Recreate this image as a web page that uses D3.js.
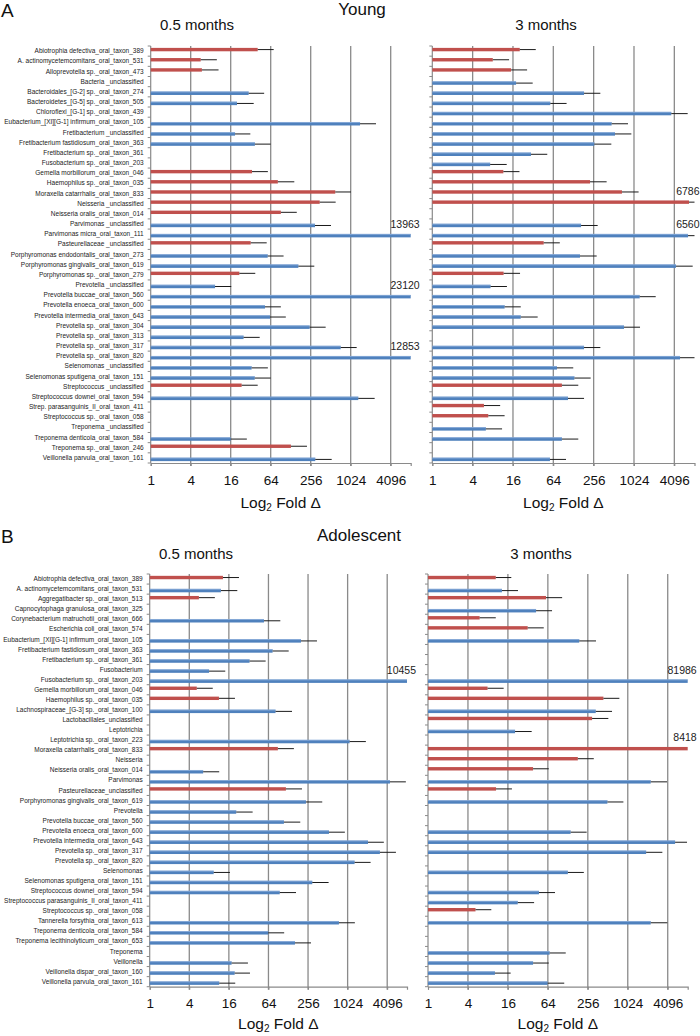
<!DOCTYPE html>
<html>
<head>
<meta charset="utf-8">
<script src="https://cdn.jsdelivr.net/npm/d3@7"></script>
<style>
  body { margin: 0; background: #fff; }
  svg { font-family: "Liberation Sans", Arial, sans-serif; }
</style>
</head>
<body>
<div id="chart"></div>
<script>
// ---- data (fold change, upper error, series r = red / b = blue) ----
var catsA = ["Abiotrophia defectiva_oral_taxon_389", "A. actinomycetemcomitans_oral_taxon_531",
  "Alloprevotella sp._oral_taxon_473", "Bacteria _unclassified", "Bacteroidales_[G-2] sp._oral_taxon_274",
  "Bacteroidetes_[G-5] sp._oral_taxon_505", "Chloroflexi_[G-1] sp._oral_taxon_439",
  "Eubacterium_[XI][G-1] infirmum_oral_taxon_105", "Fretibacterium _unclassified",
  "Fretibacterium fastidiosum_oral_taxon_363", "Fretibacterium sp._oral_taxon_361",
  "Fusobacterium sp._oral_taxon_203", "Gemella morbillorum_oral_taxon_046", "Haemophilus sp._oral_taxon_035",
  "Moraxella catarrhalis_oral_taxon_833", "Neisseria _unclassified", "Neisseria oralis_oral_taxon_014",
  "Parvimonas _unclassified", "Parvimonas micra_oral_taxon_111", "Pasteurellaceae _unclassified",
  "Porphyromonas endodontalis_oral_taxon_273", "Porphyromonas gingivalis_oral_taxon_619",
  "Porphyromonas sp._oral_taxon_279", "Prevotella _unclassified", "Prevotella buccae_oral_taxon_560",
  "Prevotella enoeca_oral_taxon_600", "Prevotella intermedia_oral_taxon_643", "Prevotella sp._oral_taxon_304",
  "Prevotella sp._oral_taxon_313", "Prevotella sp._oral_taxon_317", "Prevotella sp._oral_taxon_820",
  "Selenomonas _unclassified", "Selenomonas sputigena_oral_taxon_151", "Streptococcus _unclassified",
  "Streptococcus downei_oral_taxon_594", "Strep. parasanguinis_II_oral_taxon_411",
  "Streptococcus sp._oral_taxon_058", "Treponema _unclassified", "Treponema denticola_oral_taxon_584",
  "Treponema sp._oral_taxon_246", "Veillonella parvula_oral_taxon_161"];

var valA05 = [40.8, 5.66, 5.9, null, 29.8, 19.9, null, 1415, 18.6, 37, null, null, 33.5, 82, 600, 350, 91, 297, 13963, 32,
  57.7, 167, 21.6, 9.3, 23120, 52.5, 62.5, 247, 25, 724, 12853, 33, 36.8, 23.4, 1333, null, null, null, 16, 129, 300];
var errA05 = [71, 9.9, 10.5, null, 51, 35.5, null, 2460, 31.6, 64, null, null, 58, 145, 1034, 608, 158, 517, null, 55.7,
  100, 290, 37.5, 16.3, null, 91, 108, 430, 43.7, 1260, null, 58, 64, 40.8, 2350, null, null, null, 28, 225, 530];
var serA05 = "rrr-bb-bbb--rrrrrbbrbbrbbbbbbbbbbrb---brb";

var valA3 = [20.2, 8, 15, 17.8, 184, 57.7, 3690, 475, 533, 262, 29.7, 7.3, 11.5, 226, 677, 6786, null, 166, 6560, 46,
  160, 4330, 11.6, 7.4, 1245, 12, 20.9, 727, null, 184, 4980, 72.6, 132, 86, 106, 5.9, 6.85, 6.3, 86, null, 57];
var errA3 = [35, 14, 26, 31.5, 322, 101, 6480, 833, 935, 470, 52, 12.9, 20, 400, 1200, 9000, null, 294, 9000, 80,
  284, 7700, 20.4, 13, 2160, 20.9, 37.4, 1260, null, 322, 8700, 127, 231, 151, 184, 10.3, 12, 11, 151, null, 99];
var serA3 = "rrrbbbbbbbbbrrrr-bbrbbrbbbbb-bbbbrbrrbb-b";

var catsB = ["Abiotrophia defectiva_oral_taxon_389", "A. actinomycetemcomitans_oral_taxon_531",
  "Aggregatibacter sp._oral_taxon_513", "Capnocytophaga granulosa_oral_taxon_325",
  "Corynebacterium matruchotii_oral_taxon_666", "Escherichia coli_oral_taxon_574",
  "Eubacterium_[XI][G-1] infirmum_oral_taxon_105", "Fretibacterium fastidiosum_oral_taxon_363",
  "Fretibacterium sp._oral_taxon_361", "Fusobacterium", "Fusobacterium sp._oral_taxon_203",
  "Gemella morbillorum_oral_taxon_046", "Haemophilus sp._oral_taxon_035",
  "Lachnospiraceae_[G-3] sp._oral_taxon_100", "Lactobacillales_unclassified", "Leptotrichia",
  "Leptotrichia sp._oral_taxon_223", "Moraxella catarrhalis_oral_taxon_833", "Neisseria",
  "Neisseria oralis_oral_taxon_014", "Parvimonas", "Pasteurellaceae_unclassified",
  "Porphyromonas gingivalis_oral_taxon_619", "Prevotella", "Prevotella buccae_oral_taxon_560",
  "Prevotella enoeca_oral_taxon_600", "Prevotella intermedia_oral_taxon_643", "Prevotella sp._oral_taxon_317",
  "Prevotella sp._oral_taxon_820", "Selenomonas", "Selenomonas sputigena_oral_taxon_151",
  "Streptococcus downei_oral_taxon_594", "Streptococcus parasanguinis_II_oral_taxon_411",
  "Streptococcus sp._oral_taxon_058", "Tannerella forsythia_oral_taxon_613", "Treponema denticola_oral_taxon_584",
  "Treponema lecithinolyticum_oral_taxon_653", "Treponema", "Veillonella", "Veillonella dispar_oral_taxon_160",
  "Veillonella parvula_oral_taxon_161"];

var valB05 = [13, 12.1, 5.6, null, 54.7, null, 200, 74, 33, 8, 10455, 5.2, 11.3, 82, null, null, 1097, 89, null, 6.5,
  4510, 118, 238, 20.7, 110, 533, 2090, 3170, 1307, 9.4, 297, 95, null, null, 755, 63.6, 162, null, 17.6, 19.6, 11.4];
var errB05 = [22.8, 21.5, 9.8, null, 97, null, 350, 130, 58, 14.1, null, 9.1, 19.8, 146, null, null, 1940, 156, null, 11.4,
  7870, 207, 421, 36.8, 195, 930, 3640, 5560, 2290, 16.6, 526, 168, null, null, 1320, 111, 284, null, 31.2, 33.5, 20];
var serB05 = "rbr-b-bbbbbrrb--br-bbrbbbbbbbbbb--bbb-bbb";

var valB3 = [10.5, 13, 60, 42.5, 6, 31.8, 190, null, null, null, 81986, 7.9, 440, 337, 297, 20.5, null, 8418, 181, 38.3,
  2270, 10.6, 505, null, null, 141, 5290, 1937, null, 128, null, 47, 22.5, 5.2, 2270, null, null, 68, 38.3, 10.2, 63.5];
var errB3 = [18, 22.7, 105, 74, 10.5, 55.5, 340, null, null, null, null, 13.8, 765, 593, 522, 36.5, null, null, 315, 66,
  4000, 18.4, 880, null, null, 246, 8000, 3400, null, 223, null, 82, 39.7, 9, 4040, null, null, 119, 66, 17.6, 113];
var serB3 = "rbrbrrb---brrbrb-rrrbrb--bbb-b-bbrb--bbbb";

var tickVals = [1, 4, 16, 64, 256, 1024, 4096];
var colors = { r: "#C0504D", b: "#4F81BD" };

var width = 700, height = 1036;
var svg = d3.select("#chart").append("svg").attr("width", width).attr("height", height);

function chart(cats, vals, errs, sers, x0, x1, top, bottom, showLabels, titleGap) {
  var x = d3.scaleLog().base(2).domain([1, 8192]).range([x0, x1]).clamp(true);
  var y = d3.scaleBand().domain(cats).range([top, bottom]);
  var g = svg.append("g");
  var step = y.step();

  // vertical gridlines
  g.append("g").selectAll("line").data(tickVals.slice(1)).join("line")
    .attr("x1", d => x(d)).attr("x2", d => x(d))
    .attr("y1", top).attr("y2", bottom + 3)
    .attr("stroke", "#8a8a8a").attr("stroke-width", 1.3);

  // left axis with category boundary ticks
  g.append("line").attr("x1", x0).attr("x2", x0).attr("y1", top).attr("y2", bottom)
    .attr("stroke", "#8a8a8a").attr("stroke-width", 1.2);
  g.append("g").selectAll("line").data(d3.range(cats.length + 1)).join("line")
    .attr("x1", x0 - 3).attr("x2", x0)
    .attr("y1", i => top + i * step).attr("y2", i => top + i * step)
    .attr("stroke", "#8a8a8a").attr("stroke-width", 1);

  // bottom axis
  var ax = g.append("g").attr("transform", "translate(0," + bottom + ")")
    .call(d3.axisBottom(x).tickValues(tickVals).tickFormat(d3.format("d")).tickSize(3).tickPadding(9));
  ax.select(".domain").attr("stroke", "#8a8a8a").attr("stroke-width", 1.2);
  ax.selectAll(".tick line").attr("stroke", "#8a8a8a");
  ax.selectAll("text").attr("font-size", 13.5).attr("fill", "#111")
    .attr("font-family", "Liberation Sans, Arial, sans-serif");

  if (showLabels) {
    var ay = g.append("g").attr("transform", "translate(" + (x0 - 7) + ",0)")
      .call(d3.axisLeft(y).tickSize(0).tickPadding(0));
    ay.select(".domain").remove();
    ay.selectAll("text").attr("font-size", 6.5).attr("fill", "#222")
      .attr("font-family", "Liberation Sans, Arial, sans-serif");
  }

  var rows = cats.map((c, i) => ({ c: c, v: vals[i], e: errs[i], s: sers[i] }))
    .filter(d => d.v != null);
  var yc = d => y(d.c) + step / 2 + (d.s === "r" ? -1.5 : 1.5);

  g.append("g").selectAll("rect").data(rows).join("rect")
    .attr("x", x0).attr("width", d => x(d.v) - x0)
    .attr("y", d => yc(d) - 1.7).attr("height", 3.4)
    .attr("fill", d => colors[d.s]);
  // light top edge on blue bars
  g.append("g").selectAll("line").data(rows.filter(d => d.s === "b")).join("line")
    .attr("x1", x0).attr("x2", d => x(d.v))
    .attr("y1", d => yc(d) - 1.3).attr("y2", d => yc(d) - 1.3)
    .attr("stroke", "#8fb0dc").attr("stroke-width", 0.8);

  // error bars (upper only)
  g.append("g").selectAll("line").data(rows.filter(d => d.e != null)).join("line")
    .attr("x1", d => x(d.v)).attr("x2", d => x(d.e))
    .attr("y1", d => yc(d)).attr("y2", d => yc(d))
    .attr("stroke", "#1a1a1a").attr("stroke-width", 1);

  // values beyond the axis
  g.append("g").selectAll("text").data(rows.filter(d => d.v > 8192)).join("text")
    .attr("x", x1 + 9).attr("y", d => yc(d) - 7.5)
    .attr("text-anchor", "end").attr("font-size", 10.5).attr("fill", "#222")
    .text(d => d.v);
  g.append("g").selectAll("text").data(rows.filter(d => d.v > 6000 && d.v <= 8192)).join("text")
    .attr("x", x1 + 5).attr("y", d => yc(d) - 7.5)
    .attr("text-anchor", "end").attr("font-size", 10.5).attr("fill", "#222")
    .text(d => d.v);

  // axis title
  var t = g.append("text").attr("x", (x0 + x1) / 2).attr("y", bottom + titleGap)
    .attr("text-anchor", "middle").attr("font-size", 15.5).attr("fill", "#111");
  t.append("tspan").text("Log");
  t.append("tspan").attr("font-size", 10).attr("dy", 3).text("2");
  t.append("tspan").attr("dy", -3).text(" Fold \u0394");
}

function title(txt, x, y, size, anchor) {
  svg.append("text").attr("x", x).attr("y", y).attr("font-size", size)
    .attr("text-anchor", anchor || "middle").attr("fill", "#111").text(txt);
}

// panel A
title("A", 1, 17, 19, "start");
title("Young", 362, 15, 17);
title("0.5 months", 197, 30, 15);
title("3 months", 546, 30, 15);
chart(catsA, valA05, errA05, serA05, 150.7, 410.7, 46, 463, true, 45);
chart(catsA, valA3, errA3, serA3, 432.3, 694.5, 46, 463, false, 45);

// panel B
title("B", 1, 543, 19, "start");
title("Adolescent", 359, 541, 17);
title("0.5 months", 196, 559, 15);
title("3 months", 541, 559, 15);
chart(catsB, valB05, errB05, serB05, 149.7, 407, 574, 986.7, true, 42);
chart(catsB, valB3, errB3, serB3, 428, 687.7, 574, 986.7, false, 42);
</script>
</body>
</html>
